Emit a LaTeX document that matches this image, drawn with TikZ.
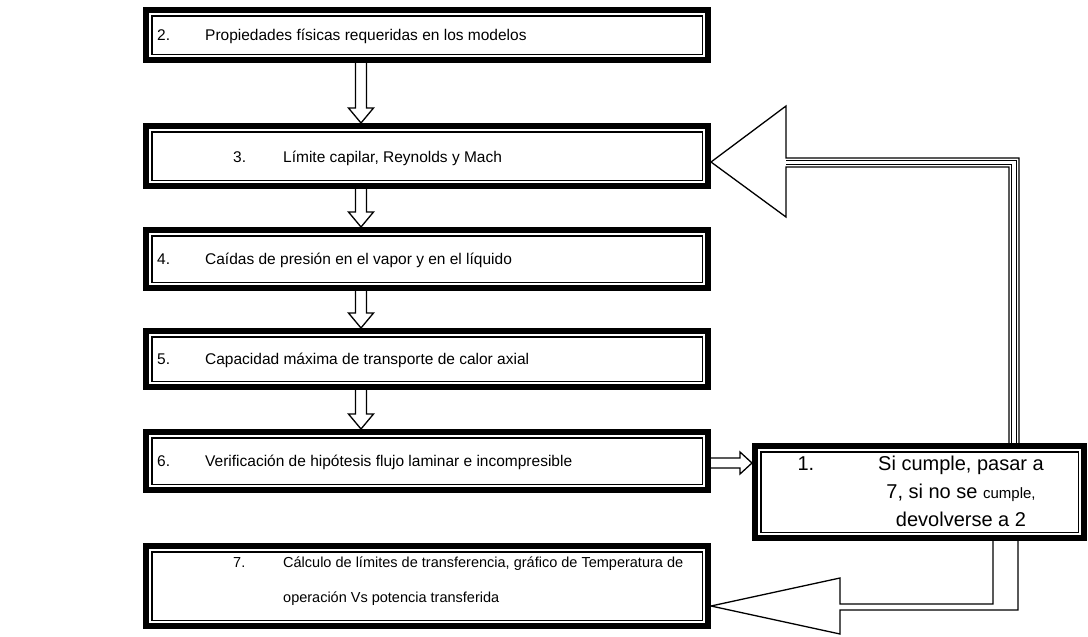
\documentclass[tikz,border=0pt]{standalone}
\usepackage{fontspec}
\setmainfont{Liberation Sans}
\usetikzlibrary{calc}
\begin{document}
\begin{tikzpicture}[x=1pt,y=-1pt,
  box/.style={draw, line width=6pt, fill=white, rectangle, inner sep=0pt, outer sep=0pt,
    path picture={\draw[line width=1.5pt]
      ([xshift=5.75pt,yshift=-5.75pt]path picture bounding box.north west) rectangle
      ([xshift=-5.75pt,yshift=5.75pt]path picture bounding box.south east);}},
  place/.style={inner sep=0pt, outer sep=0pt},
  blk/.style={draw, line width=1.3pt, fill=white, line join=miter},
  txt/.style={inner sep=0pt, font=\fontsize{15.5}{18}\selectfont},
  bigtxt/.style={inner sep=0pt, align=center, font=\fontsize{20}{28}\selectfont}]
\useasboundingbox (0,0) rectangle (1088,637);
\coordinate (ax) at (361,0);
\coordinate (rx) at (1014,0);
\coordinate (rx2) at (1005.5,0);
% placement of boxes (for anchors)
\path node[place, minimum width=562pt, minimum height=50pt] (b2) at (427,35) {}
      node[place, minimum width=562pt, minimum height=60pt] (b3) at (427,156) {}
      node[place, minimum width=562pt, minimum height=58pt] (b4) at (427,259) {}
      node[place, minimum width=562pt, minimum height=56pt] (b5) at (427,359) {}
      node[place, minimum width=562pt, minimum height=58pt] (b6) at (427,461) {}
      node[place, minimum width=562pt, minimum height=80pt] (b7) at (427,586) {}
      node[place, minimum width=329pt, minimum height=92pt] (b1) at (919.5,492) {};
% down block arrows
\foreach \a/\b in {b2/b3,b3/b4,b4/b5,b5/b6}{
  \draw[blk] let \p1=(\a.south -| ax), \p2=(\b.north -| ax) in
    (\x1-5.5pt,\y1) -- (\x1-5.5pt,\y2+18pt) -- (\x1-12.5pt,\y2+18pt) -- (\x1,\y2+3pt)
    -- (\x1+12.5pt,\y2+18pt) -- (\x1+5.5pt,\y2+18pt) -- (\x1+5.5pt,\y1) -- cycle;
}
% right arrow b6 -> b1
\draw[blk] let \p1=($(b6.east)+(0,2)$), \p2=(b1.west) in
  (\x1,\y1+5pt) -- (\x2-15pt,\y1+5pt) -- (\x2-15pt,\y1+11pt) -- (\x2-3pt,\y1)
  -- (\x2-15pt,\y1-11pt) -- (\x2-15pt,\y1-5pt) -- (\x1,\y1-5pt) -- cycle;
% return arrow b1 -> b3
\draw[blk] let \p1=(b1.north -| rx), \p2=(b3.east) in
  (\x1-5pt,\y1) -- (\x1-5pt,\y2-11pt) -- (\x2+78pt,\y2-11pt) -- (\x2+78pt,\y2-61pt)
  -- (\x2+3pt,\y2-6pt) -- (\x2+78pt,\y2+50pt) -- (\x2+78pt,\y2-2pt)
  -- (\x1+5pt,\y2-2pt) -- (\x1+5pt,\y1) -- cycle;
\draw[line width=0.9pt] let \p1=(b1.north -| rx), \p2=(b3.east) in
  (\x2+78pt,\y2-4.5pt) -- (\x1+2.5pt,\y2-4.5pt) -- (\x1+2.5pt,\y1)
  (\x2+78pt,\y2-8.5pt) -- (\x1-2.5pt,\y2-8.5pt) -- (\x1-2.5pt,\y1);
% return arrow b1 -> b7
\draw[blk] let \p1=(b1.south -| rx2), \p2=(b7.east) in
  (\x1-12.5pt,\y1) -- (\x1-12.5pt,\y2-18pt) -- (\x2+132pt,\y2-18pt) -- (\x2+132pt,\y2+8pt)
  -- (\x2+3pt,\y2-20pt) -- (\x2+132pt,\y2-48pt) -- (\x2+132pt,\y2-24pt)
  -- (\x1+12.5pt,\y2-24pt) -- (\x1+12.5pt,\y1) -- cycle;
% boxes drawn
\foreach \n in {b1,b2,b3,b4,b5,b6,b7}{
  \draw[box] (\n.north west) rectangle (\n.south east);
}
% texts
\node[txt, anchor=mid west] (t2) at (157,38) {\makebox[48pt][l]{2.}Propiedades físicas requeridas en los modelos};
\node[txt, anchor=mid west] (t3) at (233,160) {\makebox[50pt][l]{3.}Límite capilar, Reynolds y Mach};
\node[txt, anchor=mid west] (t4) at (157,262) {\makebox[48pt][l]{4.}Caídas de presión en el vapor y en el líquido};
\node[txt, anchor=mid west] (t5) at (157,362) {\makebox[48pt][l]{5.}Capacidad máxima de transporte de calor axial};
\node[txt, anchor=mid west] (t6) at (157,464) {\makebox[48pt][l]{6.}Verificación de hipótesis flujo laminar e incompresible};
\node[txt, anchor=west, align=left, font=\fontsize{14.5}{35}\selectfont] (t7) at (233,581)
  {\makebox[50pt][l]{7.}\makebox[400pt][s]{Cálculo de límites de transferencia, gráfico de Temperatura de}\\
   \hspace*{50pt}operación Vs potencia transferida};
\node[bigtxt] (t1) at (961,491)
  {\llap{1.\hspace{64pt}}Si cumple, pasar a\\
   7, si no se {\fontsize{15}{28}\selectfont cumple,}\\
   devolverse a 2};
\end{tikzpicture}
\end{document}
